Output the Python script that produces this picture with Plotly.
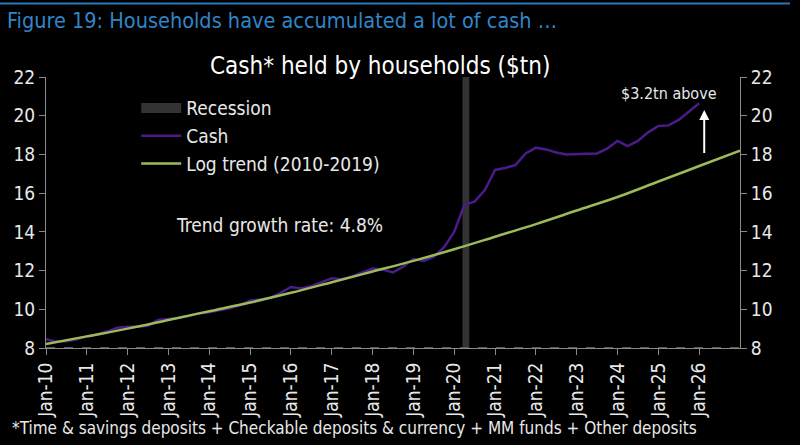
import plotly.graph_objects as go

# Cash held by households ($tn), quarterly
cash_dates = [
    "2010-01-01", "2010-04-01", "2010-07-01", "2010-10-01",
    "2011-01-01", "2011-04-01", "2011-07-01", "2011-10-01",
    "2012-01-01", "2012-04-01", "2012-07-01", "2012-10-01",
    "2013-01-01", "2013-04-01", "2013-07-01", "2013-10-01",
    "2014-01-01", "2014-04-01", "2014-07-01", "2014-10-01",
    "2015-01-01", "2015-04-01", "2015-07-01", "2015-10-01",
    "2016-01-01", "2016-04-01", "2016-07-01", "2016-10-01",
    "2017-01-01", "2017-04-01", "2017-07-01", "2017-10-01",
    "2018-01-01", "2018-04-01", "2018-07-01", "2018-10-01",
    "2019-01-01", "2019-04-01", "2019-07-01", "2019-10-01",
    "2020-01-01", "2020-04-01", "2020-07-01", "2020-10-01",
    "2021-01-01", "2021-04-01", "2021-07-01", "2021-10-01",
    "2022-01-01", "2022-04-01", "2022-07-01", "2022-10-01",
    "2023-01-01", "2023-04-01", "2023-07-01", "2023-10-01",
    "2024-01-01", "2024-04-01", "2024-07-01", "2024-10-01",
    "2025-01-01", "2025-04-01", "2025-07-01", "2025-10-01",
    "2026-01-01",
]
cash_values = [
    8.45, 8.33, 8.35, 8.45,
    8.60, 8.70, 8.85, 9.05,
    9.10, 9.10, 9.15, 9.45,
    9.50, 9.55, 9.65, 9.80,
    9.85, 9.95, 10.05, 10.20,
    10.45, 10.50, 10.60, 10.85,
    11.15, 11.08, 11.20, 11.40,
    11.60, 11.55, 11.70, 11.90,
    12.10, 12.05, 11.90, 12.20,
    12.60, 12.50, 12.70, 13.20,
    14.00, 15.40, 15.56, 16.16,
    17.20, 17.30, 17.45, 18.05,
    18.35, 18.26, 18.10, 18.00,
    18.00, 18.03, 18.05, 18.30,
    18.70, 18.43, 18.70, 19.14,
    19.47, 19.50, 19.78, 20.20,
    20.64,
]

# Log trend (2010-2019), yearly points
trend_dates = [f"{y}-01-01" for y in range(2010, 2028)]
trend_values = [8.20, 8.60, 9.00, 9.45, 9.90, 10.35, 10.85, 11.40, 11.95,
                12.50, 13.10, 13.75, 14.40, 15.10, 15.80, 16.60, 17.40, 18.20]

recession_start = "2020-03-15"
recession_end = "2020-05-15"

tick_dates = [f"{y}-01-01" for y in range(2010, 2027)]
tick_labels = [f"Jan-{str(y)[2:]}" for y in range(2010, 2027)]
y_ticks = [8, 10, 12, 14, 16, 18, 20, 22]

FONT = "DejaVu Sans Condensed, sans-serif"
AXIS = "#8a8a8a"
TXT = "#e8e8e8"

fig = go.Figure()

# legend-only entry for the recession bar
fig.add_trace(go.Scatter(
    x=[None], y=[None], mode="lines", name="Recession",
    line=dict(color="#333333", width=14)
))
fig.add_trace(go.Scatter(
    x=cash_dates, y=cash_values, mode="lines", name="Cash",
    line=dict(color="#4b1b8c", width=2.5)
))
fig.add_trace(go.Scatter(
    x=trend_dates, y=trend_values, mode="lines", name="Log trend (2010-2019)",
    line=dict(color="#9bbb59", width=2.5, shape="spline")
))
# invisible trace for the right axis
fig.add_trace(go.Scatter(
    x=trend_dates, y=trend_values, yaxis="y2", mode="lines",
    line=dict(width=0), showlegend=False, hoverinfo="skip"
))

fig.add_shape(type="rect", xref="x", yref="paper",
              x0=recession_start, x1=recession_end, y0=0, y1=1,
              fillcolor="#333333", line=dict(width=0), layer="below")
fig.add_shape(type="line", xref="paper", yref="y", x0=0, x1=1, y0=8, y1=8,
              line=dict(color="#5a5a5a", width=2, dash="dash"), layer="below")
# top blue rule
fig.add_shape(type="line", xref="paper", yref="paper", x0=-0.0663, x1=1.072,
              y0=1.271, y1=1.271, line=dict(color="#2a78b8", width=2))

fig.add_annotation(text="Figure 19: Households have accumulated a lot of cash …",
                   xref="paper", yref="paper", x=-0.059, y=1.21,
                   xanchor="left", yanchor="middle", showarrow=False,
                   font=dict(family=FONT, size=21.5, color="#2f86c8"))
fig.add_annotation(text="Cash* held by households ($tn)",
                   xref="paper", yref="paper", x=0.481, y=1.04,
                   xanchor="center", yanchor="middle", showarrow=False,
                   font=dict(family=FONT, size=24, color="white"))
fig.add_annotation(text="*Time & savings deposits + Checkable deposits & currency + MM funds + Other deposits",
                   xref="paper", yref="paper", x=-0.052, y=-0.295,
                   xanchor="left", yanchor="middle", showarrow=False,
                   font=dict(family=FONT, size=17, color=TXT))
fig.add_annotation(text="Trend growth rate: 4.8%",
                   xref="paper", yref="paper", x=0.336, y=0.455,
                   xanchor="center", yanchor="middle", showarrow=False,
                   font=dict(family=FONT, size=19, color=TXT))
fig.add_annotation(text="$3.2tn above",
                   xref="paper", yref="paper", x=0.898, y=0.94,
                   xanchor="center", yanchor="middle", showarrow=False,
                   font=dict(family=FONT, size=16, color=TXT))
fig.add_annotation(x="2026-02-15", y=20.3, ax="2026-02-15", ay=18.0,
                   xref="x", yref="y", axref="x", ayref="y",
                   showarrow=True, arrowhead=2, arrowsize=1, arrowwidth=2,
                   arrowcolor="white", text="")

fig.update_layout(
    width=800, height=445,
    paper_bgcolor="black", plot_bgcolor="black",
    margin=dict(l=46, r=60, t=77, b=97, autoexpand=False),
    font=dict(family=FONT, color=TXT, size=17),
    showlegend=True,
    legend=dict(x=0.13, y=0.955, xanchor="left", yanchor="top",
                bgcolor="rgba(0,0,0,0)", itemwidth=40,
                font=dict(family=FONT, size=19, color=TXT),
                tracegroupgap=0),
    xaxis=dict(
        type="date", range=["2010-01-01", "2027-01-01"],
        tickvals=tick_dates, ticktext=tick_labels, tickangle=-90,
        ticks="outside", ticklen=6, tickcolor=AXIS,
        showline=True, linecolor=AXIS, linewidth=1,
        showgrid=False, zeroline=False, automargin=False,
        tickfont=dict(family=FONT, size=19, color=TXT),
    ),
    yaxis=dict(
        range=[8, 22], tickvals=y_ticks,
        ticks="outside", ticklen=6, tickcolor=AXIS,
        showline=True, linecolor=AXIS, linewidth=1,
        showgrid=False, zeroline=False, automargin=False,
        tickfont=dict(family=FONT, size=19, color=TXT),
    ),
    yaxis2=dict(
        range=[8, 22], tickvals=y_ticks, overlaying="y", side="right",
        ticks="outside", ticklen=6, tickcolor=AXIS,
        showline=True, linecolor=AXIS, linewidth=1,
        showgrid=False, zeroline=False, automargin=False,
        tickfont=dict(family=FONT, size=19, color=TXT),
    ),
)

# remove the browser's default page margin so the figure sits at 0,0
fig.write_html("out.html", config={"displayModeBar": False},
               post_script="document.body.style.margin='0';document.body.style.background='black';")
